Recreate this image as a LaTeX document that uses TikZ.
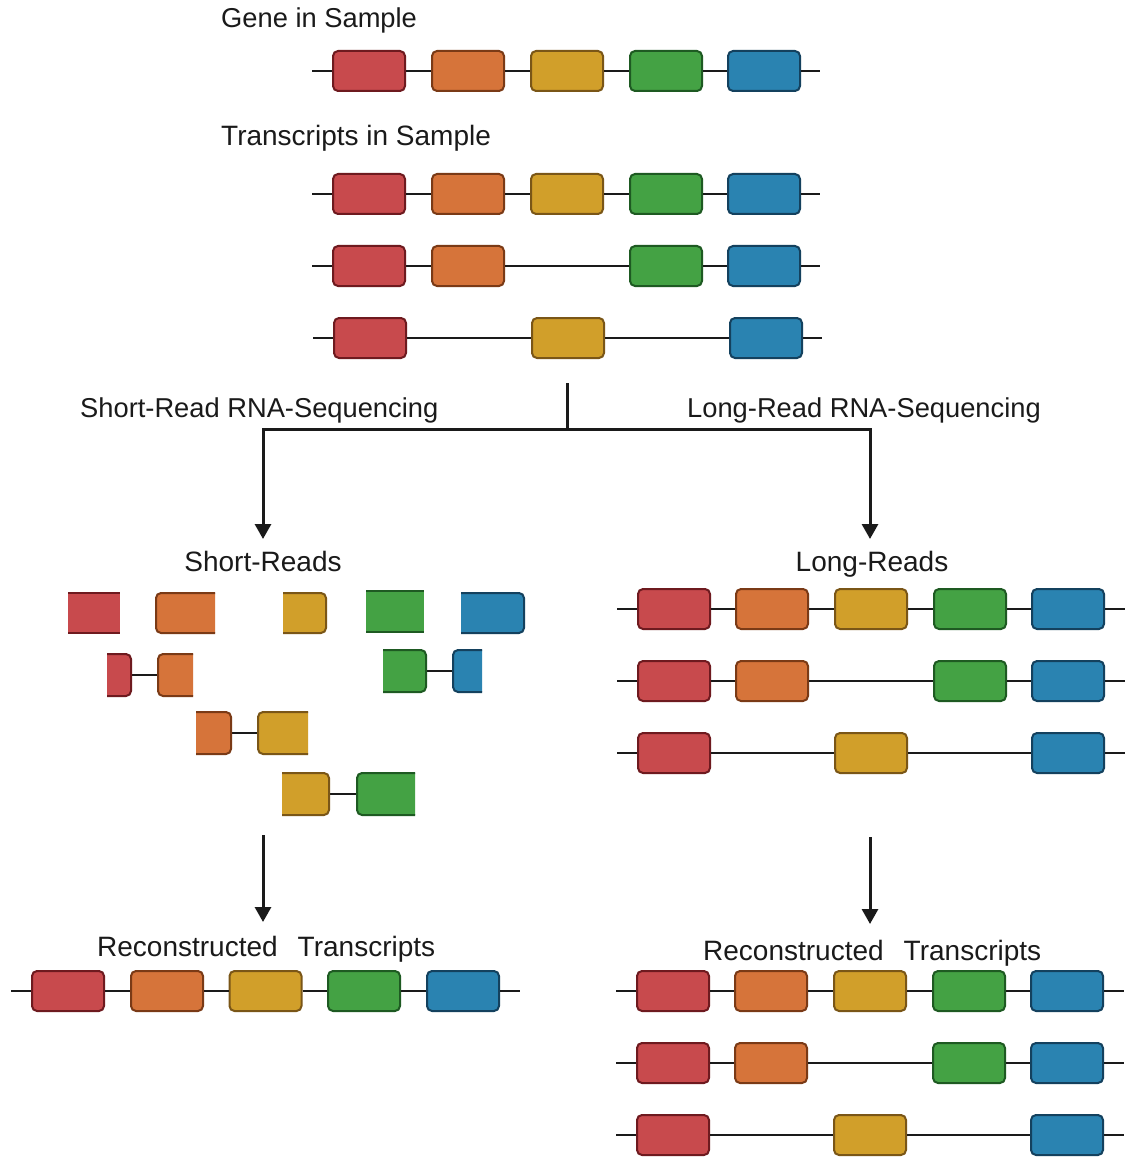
\documentclass[tikz,border=0pt]{standalone}
\usepackage{fontspec}
\setmainfont{Liberation Sans}
\usetikzlibrary{arrows.meta}
\definecolor{exR}{HTML}{C84A4D}\definecolor{exRd}{HTML}{6E1A1F}
\definecolor{exO}{HTML}{D6743A}\definecolor{exOd}{HTML}{7A3A16}
\definecolor{exY}{HTML}{D19F2A}\definecolor{exYd}{HTML}{7A5617}
\definecolor{exG}{HTML}{44A244}\definecolor{exGd}{HTML}{1E5A22}
\definecolor{exB}{HTML}{2A83B1}\definecolor{exBd}{HTML}{14415E}
\definecolor{ink}{HTML}{1A1A1A}
\tikzset{
  exon/.style={rectangle, rounded corners=5pt, minimum width=72pt, minimum height=40pt,
    inner sep=0pt, line width=2pt, draw=ex#1d, fill=ex#1},
  frag/.style={line width=2pt, draw=ex#1d, fill=ex#1, rounded corners=5pt},
  intron/.style={line width=2.5pt, draw=ink},
  lbl/.style={font=\fontsize{28}{33}\selectfont, text=ink, inner sep=0pt},
  lbls/.style={font=\fontsize{27.3}{32}\selectfont, text=ink, inner sep=0pt},
  arr/.style={line width=3pt, draw=ink, line join=miter, -{Triangle[width=16pt,length=15pt]}},
}
% rounded on left, cut on right
\newcommand{\fragLeft}[5]{\path[frag=#1] (#3,#4) -- (#2,#4) -- (#2,#5) -- (#3,#5);}
% rounded on right, cut on left
\newcommand{\fragRight}[5]{\path[frag=#1] (#2,#4) -- (#3,#4) -- (#3,#5) -- (#2,#5);}
% cut on both sides
\newcommand{\fragCut}[5]{\fill[ex#1] (#2,#4) rectangle (#3,#5);
  \draw[line width=2pt, draw=ex#1d] (#2,#4) -- (#3,#4) (#2,#5) -- (#3,#5);}
\begin{document}
\begin{tikzpicture}[x=1pt,y=-1pt]
\useasboundingbox[fill=white] (0,0) rectangle (1130,1158);

% ---------- labels ----------
\node[lbls, anchor=base west] (tGene) at (221,28) {Gene in Sample};
\node[lbl, anchor=base west] (tTrans) at (221,146) {Transcripts in Sample};
\node[lbls, anchor=base west] (tSR) at (80,417) {Short-Read RNA-Sequencing};
\node[lbls, anchor=base west] (tLR) at (687,417) {Long-Read RNA-Sequencing};
\node[lbl, anchor=base] (tShort) at (263,571) {Short-Reads};
\node[lbl, anchor=base] (tLong) at (872,571) {Long-Reads};
\node[lbl, anchor=base west] (tRecL) at (97,956) {Reconstructed\hspace{20pt}Transcripts};
\node[lbl, anchor=base west] (tRecR) at (703,960) {Reconstructed\hspace{20pt}Transcripts};

% ---------- exons ----------
\foreach \r/\y/\list in {
  g/71/{1/369/R,2/468/O,3/567/Y,4/666/G,5/764/B},
  a/194/{1/369/R,2/468/O,3/567/Y,4/666/G,5/764/B},
  b/266/{1/369/R,2/468/O,4/666/G,5/764/B},
  c/338/{1/370/R,3/568/Y,5/766/B},
  la/609/{1/674/R,2/772/O,3/871/Y,4/970/G,5/1068/B},
  lb/681/{1/674/R,2/772/O,4/970/G,5/1068/B},
  lc/753/{1/674/R,3/871/Y,5/1068/B},
  ra/991/{1/673/R,2/771/O,3/870/Y,4/969/G,5/1067/B},
  rb/1063/{1/673/R,2/771/O,4/969/G,5/1067/B},
  rc/1135/{1/673/R,3/870/Y,5/1067/B},
  sa/991/{1/68/R,2/167/O,3/265.5/Y,4/364/G,5/463/B}}{
  \foreach \i/\x/\c in \list {
    \node[exon=\c] (\r\i) at (\x,\y) {};
  }
}
% intron lines between exons
\foreach \r/\y/\xa/\xb in {g/71/312/820, a/194/312/820, b/266/312/820, c/338/313/822,
  la/609/617/1125, lb/681/617/1125, lc/753/617/1125,
  ra/991/616/1124, rb/1063/616/1124, rc/1135/616/1124, sa/991/11/520}{
  \coordinate (\r s) at (\xa,\y);
  \coordinate (\r e) at (\xb,\y);
}
\foreach \r/\list in {g/{1/2,2/3,3/4,4/5}, a/{1/2,2/3,3/4,4/5}, b/{1/2,2/4,4/5},
  c/{1/3,3/5}, la/{1/2,2/3,3/4,4/5}, lb/{1/2,2/4,4/5}, lc/{1/3,3/5},
  ra/{1/2,2/3,3/4,4/5}, rb/{1/2,2/4,4/5}, rc/{1/3,3/5}, sa/{1/2,2/3,3/4,4/5}}{
  \foreach \p/\q in \list {\draw[intron] (\r\p.east) -- (\r\q.west);}
}
\foreach \r in {g,a,b,c,la,lb,lc,ra,rb,rc,sa}{
  \draw[intron] (\r s) -- (\r1.west);
  \draw[intron] (\r5.east) -- (\r e);
}

% ---------- short-read fragments ----------
\fragCut{R}{68}{120}{593}{633}
\fragLeft{O}{156}{215}{593}{633}
\fragRight{Y}{283}{326}{593}{633}
\fragCut{G}{366}{424}{591}{632}
\fragRight{B}{461}{524}{593}{633}

\coordinate (f1a) at (131,675); \coordinate (f1b) at (158,675);
\draw[intron] (f1a) -- (f1b);
\fragRight{R}{107}{131}{654}{696}
\fragLeft{O}{158}{193}{654}{696}

\coordinate (f2a) at (426,671); \coordinate (f2b) at (453,671);
\draw[intron] (f2a) -- (f2b);
\fragRight{G}{383}{426}{650}{692}
\fragLeft{B}{453}{482}{650}{692}

\coordinate (f3a) at (231,733); \coordinate (f3b) at (258,733);
\draw[intron] (f3a) -- (f3b);
\fragRight{O}{196}{231}{712}{754}
\fragLeft{Y}{258}{308}{712}{754}

\coordinate (f4a) at (329,794); \coordinate (f4b) at (357,794);
\draw[intron] (f4a) -- (f4b);
\fragRight{Y}{282}{329}{773}{815}
\fragLeft{G}{357}{415}{773}{815}

% ---------- arrows ----------
\coordinate (split) at (567,383);
\coordinate (junc) at (567,429);
\coordinate (lt) at (263,429);
\coordinate (rt) at (870,429);
\coordinate (la) at (263,539);
\coordinate (ra) at (870,539);
\draw[line width=3pt, draw=ink] (split) -- (junc);
\draw[arr] (junc) -- (lt) -- (la);
\draw[arr] (junc) -- (rt) -- (ra);
\coordinate (ls) at (263,835); \coordinate (le) at (263,922);
\coordinate (rs) at (870,837); \coordinate (re) at (870,924);
\draw[arr] (ls) -- (le);
\draw[arr] (rs) -- (re);
\end{tikzpicture}
\end{document}
